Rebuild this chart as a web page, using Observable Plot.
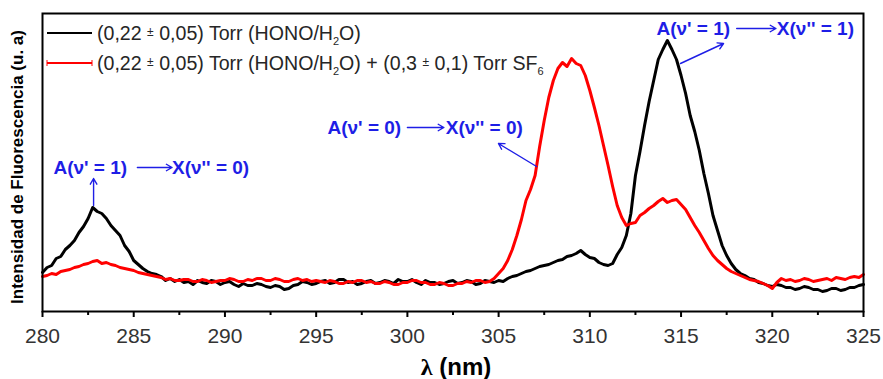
<!DOCTYPE html>
<html>
<head>
<meta charset="utf-8">
<script src="https://cdn.jsdelivr.net/npm/d3@7"></script>
<script src="https://cdn.jsdelivr.net/npm/@observablehq/plot@0.6"></script>
<style>
  body { margin: 0; background: #fff; }
  #chart svg { display: block; }
</style>
</head>
<body>
<div id="chart"></div>
<script>
// Fluorescence spectra, wavelength grid in nm (0.25 nm steps, 280–325)
const wavelength = d3.range(0, 181).map(i => 280 + i * 0.25);

// (0,22 ± 0,05) Torr HONO/H2O — intensity in arbitrary units, one row = 2 nm
const hono = [
  39, 44, 46, 53, 55, 62, 66, 71,      79, 85, 93, 104, 100, 98, 93, 86,
  81, 76, 66, 60, 51, 47, 43, 40,      38, 37, 35, 31, 33, 30, 32, 29,
  30, 27, 31, 29, 28, 31, 30, 27,      29, 30, 27, 25, 28, 26, 26, 28,
  27, 25, 24, 26, 25, 22, 23, 26,      27, 30, 29, 27, 28, 30, 31, 28,
  29, 32, 32, 29, 30, 27, 28, 30,      31, 28, 29, 31, 30, 28, 32, 30,
  30, 32, 29, 27, 31, 29, 29, 27,      28, 30, 31, 28, 29, 31, 30, 27,
  28, 31, 30, 29, 31, 30, 33, 35,      36, 38, 40, 41, 43, 45, 46, 47,
  49, 51, 52, 55, 56, 58, 61, 57,      54, 53, 49, 47, 46, 48, 57, 64,
  76, 98, 136, 160, 186, 210, 231, 252, 262, 271, 262, 252, 236, 218, 196, 180,
  161, 138, 118, 96, 81, 66, 56, 48,   42, 38, 36, 33, 32, 29, 28, 26,
  25, 27, 26, 24, 24, 22, 23, 25,      24, 22, 22, 20, 21, 23, 23, 21,
  22, 24, 24, 26,
  27
];

// same mixture + (0,3 ± 0,1) Torr SF6
const honoSF6 = [
  35, 36, 38, 37, 40, 41, 42, 44,      45, 47, 48, 50, 51, 48, 49, 47,
  46, 44, 43, 42, 41, 39, 38, 37,      36, 35, 34, 32, 33, 31, 31, 32,
  32, 30, 30, 32, 31, 29, 30, 31,      31, 33, 32, 30, 30, 32, 31, 33,
  33, 31, 31, 33, 32, 30, 30, 32,      33, 31, 32, 30, 31, 30, 29, 31,
  30, 28, 28, 30, 29, 31, 31, 29,      30, 28, 28, 30, 29, 27, 27, 29,
  29, 31, 31, 29, 29, 27, 27, 29,      28, 26, 26, 28, 28, 30, 29, 31,
  31, 29, 30, 33, 38, 43, 51, 62,      76, 92, 111, 122, 136, 165, 191, 214,
  231, 243, 249, 245, 253, 248, 246, 236, 221, 204, 186, 166, 146, 125, 106, 94,
  86, 88, 89, 96, 99, 103, 106, 110,   113, 109, 111, 112, 107, 102, 94, 86,
  79, 71, 63, 56, 51, 47, 43, 40,      38, 36, 34, 32, 31, 30, 28, 26,
  23, 29, 33, 31, 32, 30, 31, 33,      32, 30, 31, 32, 33, 31, 34, 33,
  32, 34, 35, 34,
  37
];

const majorTicks = [280, 285, 290, 295, 300, 305, 310, 315, 320, 325];
const minorTicks = [282.5, 287.5, 292.5, 297.5, 302.5, 307.5, 312.5, 317.5, 322.5];

// Transition labels: upper state, lower state and where they sit
const transitionFrom = ["A(ν' = 1)", "A(ν' = 0)", "A(ν' = 1)"];
const transitionTo = ["X(ν'' = 0)", "X(ν'' = 0)", "X(ν'' = 1)"];
const labelX = [280.6, 295.62, 313.65];
const labelY = [144, 184, 283];
const toX = [287.1, 302.1, 320.25];
const midArrowX1 = [285.2, 300.0, 318.05];
const midArrowX2 = [287.1, 302.0, 320.2];
// pointers from each band to its label
const pointerX1 = [282.8, 307.08, 314.97];
const pointerY1 = [106, 145, 248];
const pointerX2 = [282.8, 304.99, 317.33];
const pointerY2 = [133, 168, 268];

const blue = "#1e1ee6";

const rows = wavelength.map((w, i) => ({wavelength: w, hono: hono[i], honoSF6: honoSF6[i]}));
const labels = transitionFrom.map((t, i) => ({
  from: t, to: transitionTo[i], x: labelX[i], y: labelY[i], xt: toX[i],
  ax1: midArrowX1[i], ax2: midArrowX2[i],
  px1: pointerX1[i], py1: pointerY1[i], px2: pointerX2[i], py2: pointerY2[i]
}));

const plot = Plot.plot({
  width: 883,
  height: 379,
  marginLeft: 42,
  marginRight: 20,
  marginTop: 13,
  marginBottom: 68,
  style: {fontFamily: "'Liberation Sans', Arial, sans-serif", background: "#fff"},
  x: {domain: [280, 325]},
  y: {domain: [0, 298], axis: null},
  marks: [
    Plot.axisX({ticks: majorTicks, tickSize: 6, tickPadding: 11, fontSize: 21, label: null,
      strokeWidth: 2, stroke: "#000", fill: "#333", tickFormat: d => String(d)}),
    Plot.axisX({ticks: minorTicks, tickSize: 4, label: null, strokeWidth: 2, stroke: "#000",
      tickFormat: () => ""}),
    Plot.lineY(rows, {x: "wavelength", y: "hono", stroke: "#000", strokeWidth: 3}),
    Plot.lineY(rows, {x: "wavelength", y: "honoSF6", stroke: "#ff0000", strokeWidth: 3}),
    Plot.frame({stroke: "#000", strokeWidth: 2}),
    Plot.text(labels, {x: "x", y: "y", text: "from", textAnchor: "start", fill: blue,
      fontWeight: "bold", fontSize: 19}),
    Plot.text(labels, {x: "xt", y: "y", text: "to", textAnchor: "start", fill: blue,
      fontWeight: "bold", fontSize: 19}),
    Plot.arrow(labels, {x1: "ax1", y1: "y", x2: "ax2", y2: "y", stroke: blue,
      strokeWidth: 1.4, headLength: 7}),
    Plot.arrow(labels, {x1: "px1", y1: "py1", x2: "px2", y2: "py2", stroke: blue,
      strokeWidth: 1.4, headLength: 7})
  ]
});

document.getElementById("chart").appendChild(plot);

// Legend and axis titles
const svg = d3.select(plot);
const font = "'Liberation Sans', Arial, sans-serif";

function legendEntry(g, y, color, parts) {
  g.append("line").attr("x1", 47).attr("x2", 92).attr("y1", y).attr("y2", y)
    .attr("stroke", color).attr("stroke-width", 2);
  if (color !== "#000") {
    g.append("line").attr("x1", 47).attr("x2", 47).attr("y1", y - 3).attr("y2", y + 3)
      .attr("stroke", color).attr("stroke-width", 1);
    g.append("line").attr("x1", 92).attr("x2", 92).attr("y1", y - 3).attr("y2", y + 3)
      .attr("stroke", color).attr("stroke-width", 1);
  }
  const t = g.append("text").attr("x", 97).attr("y", y + 7)
    .attr("text-anchor", "start")
    .attr("font-family", font).attr("font-size", 19.6).attr("fill", "#262626");
  for (const [s, kind] of parts) {
    const ts = t.append("tspan").text(s);
    if (kind === "pm") ts.attr("font-size", 12).attr("dy", -4);
    if (kind === "afterpm") ts.attr("dy", 4);
    if (kind === "sub") ts.attr("font-size", 11).attr("dy", 5);
    if (kind === "aftersub") ts.attr("dy", -5);
  }
}

const legend = svg.append("g");
const honoParts = [["(0,22 ", ""], ["±", "pm"], [" 0,05) Torr (HONO/H", "afterpm"], ["2", "sub"], ["O)", "aftersub"]];
legendEntry(legend, 33, "#000", honoParts);
legendEntry(legend, 63, "#ff0000", [...honoParts,
  [" + (0,3 ", ""], ["±", "pm"], [" 0,1) Torr SF", "afterpm"], ["6", "sub"]]);

svg.append("text")
  .attr("transform", "translate(23,167) rotate(-90)")
  .attr("text-anchor", "middle")
  .attr("font-family", font).attr("font-weight", "bold").attr("font-size", 17)
  .attr("fill", "#000")
  .text("Intensidad de Fluorescencia (u. a)");

const xl = svg.append("text")
  .attr("x", 456).attr("y", 375)
  .attr("text-anchor", "middle")
  .attr("font-weight", "bold").attr("font-size", 24).attr("fill", "#000");
xl.append("tspan").attr("font-family", "'Liberation Serif', 'DejaVu Serif', serif").text("λ");
xl.append("tspan").attr("font-family", font).text(" (nm)");
</script>
</body>
</html>
